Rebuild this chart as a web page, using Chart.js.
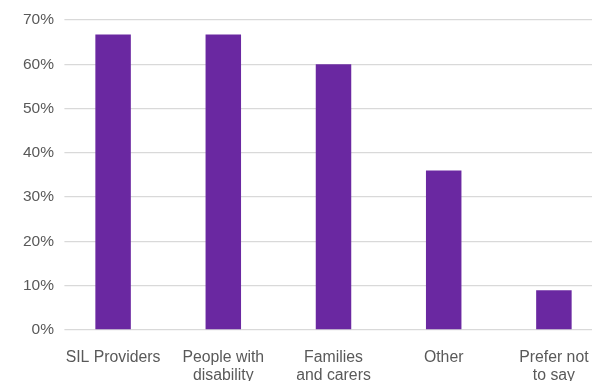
<!DOCTYPE html>
<html>
<head>
<meta charset="utf-8">
<script src="https://cdn.jsdelivr.net/npm/chart.js@4"></script>
<style>
    html, body { margin: 0; padding: 0; background: #fff; overflow: hidden; }
    #wrap { width: 609px; height: 400px; }
</style>
</head>
<body>
<div id="wrap"><canvas id="chart" width="609" height="400"></canvas></div>
<script>
// categories and values
const categories = [
    ['SIL Providers'],
    ['People with', 'disability'],
    ['Families', 'and carers'],
    ['Other'],
    ['Prefer not', 'to say']
];
const percents = [66.7, 66.7, 60, 36, 9];
const yTicks = [0, 10, 20, 30, 40, 50, 60, 70];

const textColor = '#595959';
const gridColor = '#d9d9d9';
const barColor = '#6a28a1';

// trims the gridlines a little on the left, like the original
const trimGrid = {
    id: 'trimGrid',
    beforeDatasetsDraw(chart) {
        const a = chart.chartArea;
        const ctx = chart.ctx;
        ctx.save();
        ctx.fillStyle = '#fff';
        ctx.fillRect(a.left - 1, a.top - 3, 7.4, a.bottom - a.top + 6);
        ctx.restore();
    }
};

const ctx = document.getElementById('chart').getContext('2d');
const chart = new Chart(ctx, {
    type: 'bar',
    data: {
        labels: categories,
        datasets: [{
            data: percents,
            backgroundColor: barColor,
            borderWidth: 0,
            barPercentage: 0.322,
            categoryPercentage: 1
        }]
    },
    options: {
        responsive: false,
        animation: false,
        layout: { padding: { top: 20, right: 0, bottom: 0, left: 0 } },
        plugins: {
            legend: { display: false },
            tooltip: { enabled: false }
        },
        scales: {
            x: {
                grid: { display: false, drawTicks: false },
                border: { display: false },
                ticks: {
                    color: textColor,
                    padding: 19,
                    maxRotation: 0,
                    autoSkip: false,
                    font: { family: 'Liberation Sans', size: 15.8, lineHeight: 1.14 }
                },
                afterFit: function (scale) { scale.height = 70; }
            },
            y: {
                min: 0,
                max: 70,
                afterBuildTicks: function (scale) {
                    scale.ticks = yTicks.map(v => ({ value: v }));
                },
                grid: { color: gridColor, lineWidth: 1.3, drawTicks: false },
                border: { display: false },
                ticks: {
                    color: textColor,
                    padding: 4,
                    font: { family: 'Liberation Sans', size: 15.5 },
                    callback: v => v + '%'
                },
                afterFit: function (scale) { scale.width = 58; }
            }
        }
    },
    plugins: [trimGrid]
});
</script>
</body>
</html>
